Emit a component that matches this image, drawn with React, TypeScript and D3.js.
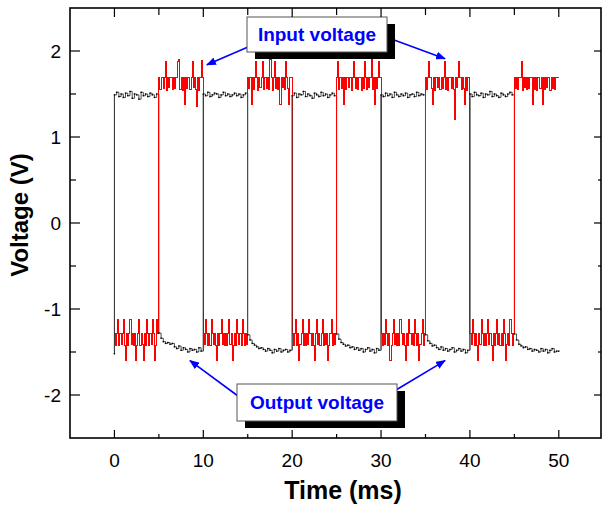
import React from "react";
import * as d3 from "d3";

// scope traces, one row per 5 ms half period
const halfPeriod = 5;
const inputStep = 0.125; // ms between input samples
const outputStep = 0.25; // ms between output samples

// input (red): low / high alternating, starting low at t = 0
const inputSegments: number[][] = [
  [-1.29, -1.42, -1.29, -1.12, -1.43, -1.29, -1.41, -1.29, -1.12, -1.42, -1.6, -1.29, -1.43, -1.29, -1.12, -1.41, -1.29, -1.42, -1.29, -1.6, -1.43, -1.29, -1.12, -1.42, -1.29, -1.41, -1.6, -1.29, -1.43, -1.12, -1.29, -1.42, -1.29, -1.41, -1.12, -1.29, -1.6, -1.43, -1.12, -1.29],
  [1.69, 1.55, 1.69, 1.69, 1.56, 1.69, 1.88, 1.54, 1.69, 1.57, 1.69, 1.69, 1.55, 1.69, 1.56, 1.69, 1.69, 1.88, 1.9, 1.55, 1.69, 1.54, 1.69, 1.38, 1.69, 1.56, 1.69, 1.69, 1.55, 1.69, 1.88, 1.57, 1.69, 1.55, 1.36, 1.69, 1.54, 1.69, 1.89, 1.69],
  [-1.29, -1.41, -1.12, -1.29, -1.43, -1.29, -1.42, -1.12, -1.29, -1.41, -1.29, -1.43, -1.6, -1.29, -1.42, -1.29, -1.12, -1.41, -1.29, -1.43, -1.29, -1.42, -1.29, -1.12, -1.41, -1.29, -1.6, -1.43, -1.29, -1.42, -1.12, -1.29, -1.41, -1.29, -1.43, -1.12, -1.29, -1.42, -1.29, -1.41],
  [1.69, 1.56, 1.69, 1.38, 1.69, 1.55, 1.69, 1.88, 1.69, 1.54, 1.69, 1.57, 1.69, 1.88, 1.55, 1.69, 1.69, 1.56, 1.69, 1.55, 1.9, 1.69, 1.54, 1.69, 1.88, 1.56, 1.69, 1.55, 1.69, 1.38, 1.69, 1.57, 1.69, 1.55, 1.88, 1.69, 1.56, 1.38, 1.69, 1.69],
  [-1.29, -1.43, -1.29, -1.12, -1.42, -1.29, -1.6, -1.41, -1.29, -1.12, -1.43, -1.29, -1.42, -1.29, -1.41, -1.12, -1.29, -1.43, -1.29, -1.42, -1.6, -1.29, -1.12, -1.41, -1.29, -1.43, -1.29, -1.12, -1.42, -1.29, -1.41, -1.29, -1.6, -1.43, -1.29, -1.12, -1.42, -1.29, -1.41, -1.29],
  [1.69, 1.88, 1.55, 1.69, 1.56, 1.69, 1.38, 1.69, 1.55, 1.69, 1.69, 1.57, 1.69, 1.54, 1.69, 1.88, 1.69, 1.56, 1.69, 1.55, 1.69, 1.69, 1.54, 1.69, 1.56, 1.88, 1.69, 1.55, 1.69, 1.57, 1.69, 1.92, 1.55, 1.69, 1.38, 1.69, 1.56, 1.69, 1.88, 1.69],
  [-1.29, -1.42, -1.29, -1.41, -1.12, -1.29, -1.43, -1.29, -1.6, -1.42, -1.29, -1.12, -1.41, -1.29, -1.43, -1.29, -1.42, -1.12, -1.29, -1.41, -1.29, -1.43, -1.6, -1.29, -1.42, -1.12, -1.29, -1.41, -1.29, -1.43, -1.12, -1.29, -1.42, -1.29, -1.6, -1.41, -1.29, -1.12, -1.43, -1.29],
  [1.69, 1.55, 1.69, 1.88, 1.69, 1.56, 1.38, 1.69, 1.54, 1.69, 1.69, 1.57, 1.69, 1.55, 1.69, 1.56, 1.69, 1.88, 1.55, 1.69, 1.54, 1.69, 1.69, 1.56, 1.69, 1.55, 1.2, 1.69, 1.57, 1.69, 1.88, 1.69, 1.55, 1.69, 1.56, 1.38, 1.69, 1.54, 1.69, 1.69],
  [-1.29, -1.41, -1.12, -1.29, -1.43, -1.29, -1.42, -1.6, -1.29, -1.41, -1.12, -1.29, -1.43, -1.29, -1.42, -1.29, -1.12, -1.41, -1.29, -1.43, -1.6, -1.29, -1.42, -1.29, -1.12, -1.41, -1.29, -1.43, -1.29, -1.42, -1.12, -1.29, -1.6, -1.41, -1.29, -1.43, -1.12, -1.29, -1.42, -1.29],
  [1.69, 1.56, 1.69, 1.55, 1.69, 1.69, 1.88, 1.54, 1.69, 1.57, 1.69, 1.55, 1.69, 1.56, 1.69, 1.69, 1.38, 1.69, 1.55, 1.69, 1.54, 1.69, 1.69, 1.56, 1.69, 1.38, 1.69, 1.55, 1.69, 1.57, 1.69, 1.69, 1.54, 1.69, 1.56, 1.69, 1.55, 1.69, 1.69, 1.69],
];

// output (black): high / low alternating, starting high at t = 0
const outputStart = -1.52;
const outputSegments: number[][] = [
  [1.49, 1.52, 1.47, 1.5, 1.46, 1.51, 1.48, 1.53, 1.45, 1.5, 1.49, 1.44, 1.52, 1.48, 1.5, 1.47, 1.51, 1.49, 1.46, 1.5],
  [-1.28, -1.34, -1.38, -1.4, -1.39, -1.41, -1.4, -1.44, -1.46, -1.43, -1.48, -1.45, -1.47, -1.5, -1.46, -1.48, -1.47, -1.5, -1.45, -1.49],
  [1.5, 1.48, 1.52, 1.47, 1.49, 1.51, 1.5, 1.46, 1.49, 1.52, 1.48, 1.5, 1.47, 1.49, 1.51, 1.48, 1.5, 1.46, 1.49, 1.51],
  [-1.3, -1.36, -1.4, -1.42, -1.44, -1.46, -1.45, -1.47, -1.49, -1.46, -1.48, -1.51, -1.47, -1.49, -1.46, -1.5, -1.48, -1.47, -1.5, -1.48],
  [1.48, 1.51, 1.46, 1.5, 1.49, 1.53, 1.47, 1.5, 1.48, 1.45, 1.51, 1.49, 1.47, 1.52, 1.48, 1.5, 1.46, 1.49, 1.51, 1.48],
  [-1.29, -1.35, -1.39, -1.41, -1.43, -1.42, -1.45, -1.44, -1.47, -1.45, -1.48, -1.46, -1.5, -1.47, -1.45, -1.49, -1.47, -1.51, -1.46, -1.48],
  [1.49, 1.47, 1.51, 1.48, 1.5, 1.46, 1.52, 1.49, 1.47, 1.5, 1.48, 1.51, 1.46, 1.49, 1.5, 1.47, 1.52, 1.48, 1.5, 1.49],
  [-1.3, -1.37, -1.4, -1.43, -1.42, -1.45, -1.47, -1.44, -1.48, -1.46, -1.49, -1.47, -1.45, -1.5, -1.48, -1.46, -1.49, -1.47, -1.51, -1.48],
  [1.5, 1.47, 1.52, 1.49, 1.48, 1.51, 1.46, 1.5, 1.49, 1.53, 1.47, 1.5, 1.48, 1.46, 1.51, 1.49, 1.47, 1.5, 1.52, 1.49],
  [-1.29, -1.36, -1.41, -1.43, -1.45, -1.44, -1.47, -1.46, -1.49, -1.47, -1.48, -1.5, -1.46, -1.49, -1.47, -1.51, -1.48, -1.46, -1.5, -1.49],
];

const xTickLabels = [0, 10, 20, 30, 40, 50];
const xMinorTicks = [5, 15, 25, 35, 45];
const yTickLabels = [-2, -1, 0, 1, 2];
const yMinorTicks = [-1.5, -0.5, 0.5, 1.5];

type Pt = { t: number; v: number };

function toPoints(segs: number[][], step: number): Pt[] {
  const pts: Pt[] = [];
  segs.forEach((seg, s) => {
    seg.forEach((v, i) => pts.push({ t: s * halfPeriod + i * step, v }));
  });
  const last = pts[pts.length - 1];
  pts.push({ t: segs.length * halfPeriod, v: last.v });
  return pts;
}

const W = 602;
const H = 506;
const left = 70, right = 601, top = 8, bottom = 438;
const font = "Arial, 'Liberation Sans', sans-serif";

export default function App() {
  const x = d3.scaleLinear().domain([-5, 54.75]).range([left, right]);
  const y = d3.scaleLinear().domain([-2.5, 2.5]).range([bottom, top]);

  const stepLine = d3
    .line<Pt>()
    .x((d) => x(d.t))
    .y((d) => y(d.v))
    .curve(d3.curveStepAfter);

  const inPts = toPoints(inputSegments, inputStep);
  const outPts = [{ t: 0, v: outputStart }, ...toPoints(outputSegments, outputStep)];
  // rising edges of the output, drawn over the input trace
  const outRises = outPts.slice(1).map((d, i) => [outPts[i], d]).filter(([a, b]) => a.v < 0 && b.v > 0);

  // annotation boxes (pixel layout), arrow tips in data space
  const boxes = [
    { label: "Input voltage", x: 247, y: 17, w: 140, h: 35, baseline: 41,
      arrows: [
        { from: [248, 47], to: [10.4, 1.84] },
        { from: [386, 37], to: [37.2, 1.91] },
      ] },
    { label: "Output voltage", x: 237, y: 384, w: 160, h: 37, baseline: 409,
      arrows: [
        { from: [238, 396], to: [8.5, -1.6] },
        { from: [396, 390], to: [37.2, -1.6] },
      ] },
  ];

  return (
    <svg width={W} height={H} style={{ position: "absolute", left: 0, top: 0, background: "#fff" }}>
      <defs>
        <marker id="ah" markerWidth={10} markerHeight={8} refX={9} refY={4} orient="auto" markerUnits="userSpaceOnUse">
          <path d="M0,0 L10,4 L0,8 z" fill="#0000ff" />
        </marker>
      </defs>

      {/* traces */}
      <path d={stepLine(outPts) || ""} fill="none" stroke="#000" strokeWidth={0.7} />
      <path d={stepLine(inPts) || ""} fill="none" stroke="#ff0000" strokeWidth={1} shapeRendering="crispEdges" />
      {outRises.map(([a, b], i) => (
        <line key={i} x1={x(b.t)} x2={x(b.t)} y1={y(a.v)} y2={y(b.v)} stroke="#333" strokeWidth={0.8} />
      ))}
      {outPts.map((d, i) => (
        <rect key={i} x={x(d.t) - 0.7} y={y(d.v) - 0.7} width={1.4} height={1.4} fill="#000" />
      ))}

      {/* annotations */}
      {boxes.map((b) => (
        <g key={b.label}>
          {b.arrows.map((a, i) => (
            <line key={i} x1={a.from[0]} y1={a.from[1]} x2={x(a.to[0])} y2={y(a.to[1])}
              stroke="#0000ff" strokeWidth={1.6} markerEnd="url(#ah)" />
          ))}
          <rect x={b.x + 8} y={b.y + 7} width={b.w} height={b.h} fill="#000" />
          <rect x={b.x} y={b.y} width={b.w} height={b.h} fill="#fff" stroke="#555" strokeWidth={1} />
          <text x={b.x + b.w / 2} y={b.baseline} textAnchor="middle" fontFamily={font}
            fontWeight="bold" fontSize={19} fill="#0000ff">{b.label}</text>
        </g>
      ))}

      {/* frame */}
      <rect x={left} y={top} width={right - left} height={bottom - top} fill="none" stroke="#000" strokeWidth={1.6} />

      {/* x ticks */}
      {xTickLabels.map((t) => (
        <g key={"xb" + t}>
          <line x1={x(t)} x2={x(t)} y1={bottom} y2={bottom - 8} stroke="#000" strokeWidth={1.2} />
          <line x1={x(t)} x2={x(t)} y1={top} y2={top + 9} stroke="#000" strokeWidth={1.2} />
          <text x={x(t)} y={467} textAnchor="middle" fontFamily={font} fontSize={19}>{t}</text>
        </g>
      ))}
      {xMinorTicks.map((t) => (
        <g key={"xm" + t}>
          <line x1={x(t)} x2={x(t)} y1={bottom} y2={bottom - 4} stroke="#000" strokeWidth={1.2} />
          <line x1={x(t)} x2={x(t)} y1={top} y2={top + 7} stroke="#000" strokeWidth={1.2} />
        </g>
      ))}

      {/* y ticks */}
      {yTickLabels.map((v) => (
        <g key={"y" + v}>
          <line x1={left} x2={left + 10} y1={y(v)} y2={y(v)} stroke="#000" strokeWidth={1.2} />
          <line x1={right} x2={right - 7} y1={y(v)} y2={y(v)} stroke="#000" strokeWidth={1.2} />
          <text x={61} y={y(v) + 7} textAnchor="end" fontFamily={font} fontSize={19}>{v}</text>
        </g>
      ))}
      {yMinorTicks.map((v) => (
        <g key={"ym" + v}>
          <line x1={left} x2={left + 6} y1={y(v)} y2={y(v)} stroke="#000" strokeWidth={1.2} />
          <line x1={right} x2={right - 3} y1={y(v)} y2={y(v)} stroke="#000" strokeWidth={1.2} />
        </g>
      ))}

      {/* axis titles */}
      <text x={343} y={499} textAnchor="middle" fontFamily={font} fontWeight="bold" fontSize={25}>Time (ms)</text>
      <text transform={`translate(28, 215) rotate(-90)`} textAnchor="middle" fontFamily={font} fontWeight="bold" fontSize={24}>
        Voltage (V)
      </text>
    </svg>
  );
}
